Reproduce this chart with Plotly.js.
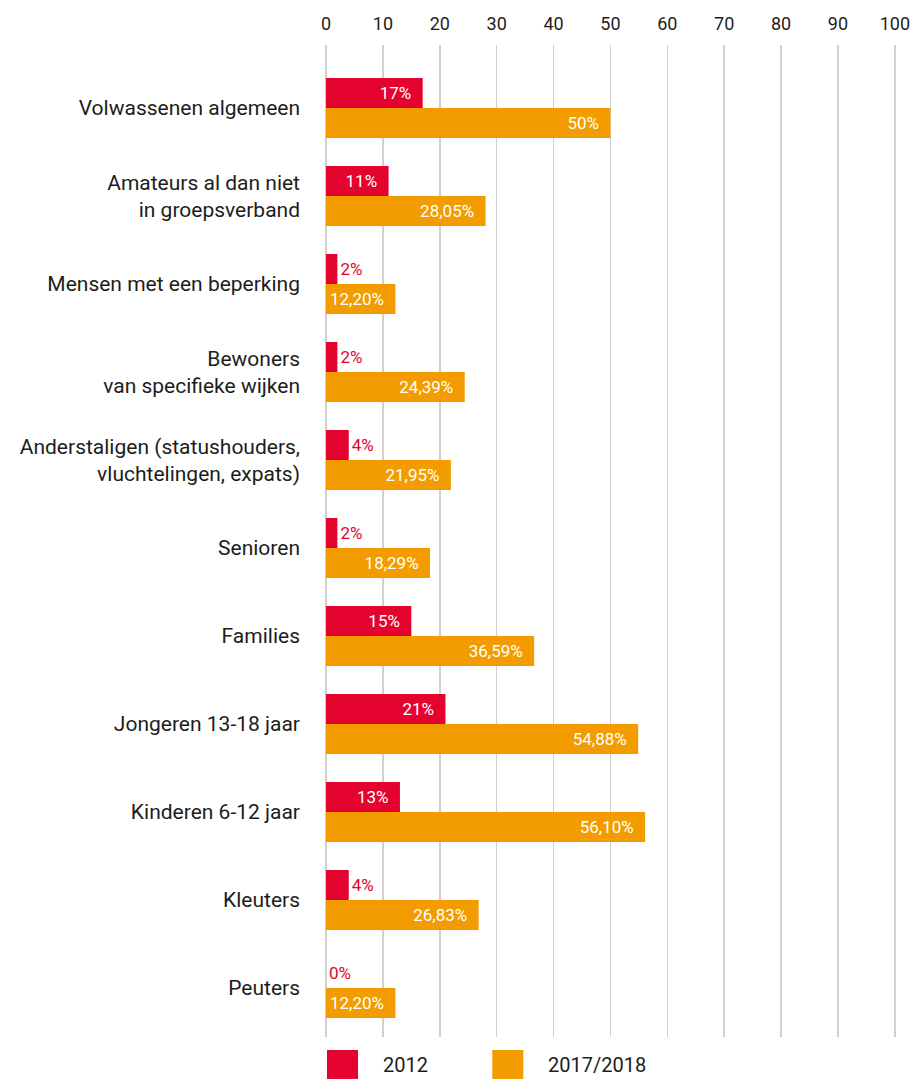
<!DOCTYPE html>
<html>
<head>
<meta charset="utf-8">
<script src="https://cdn.plot.ly/plotly-3.0.1.min.js"></script>
<style>html,body{margin:0;padding:0;background:#fff}#chart{width:910px;height:1079px}</style>
</head>
<body>
<div id="chart"></div>
<script>
const categories = [
  "Volwassenen algemeen",
  "Amateurs al dan niet<br>in groepsverband",
  "Mensen met een beperking",
  "Bewoners<br>van specifieke wijken",
  "Anderstaligen (statushouders,<br>vluchtelingen, expats)",
  "Senioren",
  "Families",
  "Jongeren 13-18 jaar",
  "Kinderen 6-12 jaar",
  "Kleuters",
  "Peuters"
];
const values2012 = [17, 11, 2, 2, 4, 2, 15, 21, 13, 4, 0];
const labels2012 = ["17%", "11%", "2%", "2%", "4%", "2%", "15%", "21%", "13%", "4%", "0%"];
const values2017 = [50, 28.05, 12.20, 24.39, 21.95, 18.29, 36.59, 54.88, 56.10, 26.83, 12.20];
const labels2017 = ["50%", "28,05%", "12,20%", "24,39%", "21,95%", "18,29%", "36,59%", "54,88%", "56,10%", "26,83%", "12,20%"];
const seriesNames = ["2012", "2017/2018"];
const xTicks = [0, 10, 20, 30, 40, 50, 60, 70, 80, 90, 100];

const RED = "#e4032e", ORANGE = "#f39c00", TXT = "#1d1d1b";
const FONT = "Roboto, 'DejaVu Sans', sans-serif";
const PAD = "\u00a0\u00a0";

const inside2012 = values2012.map(v => v >= 8);
const pos2012 = inside2012.map(b => b ? "inside" : "outside");
const col2012 = inside2012.map(b => b ? "#ffffff" : RED);
const txt2012 = labels2012.map((t, i) => inside2012[i] ? t + PAD : t);
const txt2017 = labels2017.map(t => t + PAD);

const traces = [
  {
    type: "bar", orientation: "h", name: seriesNames[0],
    y: categories, x: values2012, text: txt2012,
    textposition: pos2012, insidetextanchor: "end",
    textfont: {family: FONT, size: 17, color: col2012},
    marker: {color: RED}, cliponaxis: false, hoverinfo: "skip"
  },
  {
    type: "bar", orientation: "h", name: seriesNames[1],
    y: categories, x: values2017, text: txt2017,
    textposition: "inside", insidetextanchor: "end",
    textfont: {family: FONT, size: 17, color: "#ffffff"},
    marker: {color: ORANGE}, cliponaxis: false, hoverinfo: "skip"
  }
];

const layout = {
  width: 910, height: 1079,
  margin: {l: 326, r: 14, t: 45, b: 42},
  paper_bgcolor: "#fff", plot_bgcolor: "#fff",
  barmode: "group", bargap: 0.318, bargroupgap: 0,
  showlegend: false,
  font: {family: FONT, color: TXT},
  uniformtext: {minsize: 17, mode: "show"},
  xaxis: {
    side: "top", range: [0, 100.2], tickvals: xTicks, ticktext: xTicks.map(String),
    showgrid: true, gridcolor: "#d0d0d0", gridwidth: 1.5,
    zeroline: true, zerolinecolor: "#d0d0d0", zerolinewidth: 1.5,
    showline: false, ticks: "", ticklabelstandoff: 10, ticklabeloverflow: "allow",
    tickfont: {family: FONT, size: 18, color: TXT}, fixedrange: true
  },
  yaxis: {
    type: "category", categoryorder: "array", categoryarray: categories,
    range: [10.557, -0.716], showgrid: false, zeroline: false, showline: false,
    ticks: "", ticklabelstandoff: 25,
    tickfont: {family: FONT, size: 21, color: TXT}, fixedrange: true
  },
  shapes: [
    {type: "rect", xref: "paper", yref: "paper", x0: 0.0018, x1: 0.0562, y0: -0.0131, y1: -0.0423, fillcolor: RED, line: {width: 0}},
    {type: "rect", xref: "paper", yref: "paper", x0: 0.2917, x1: 0.3462, y0: -0.0131, y1: -0.0423, fillcolor: ORANGE, line: {width: 0}}
  ],
  annotations: [
    {xref: "paper", yref: "paper", x: 0.0967, y: -0.0282, xanchor: "left", yanchor: "middle", showarrow: false, text: seriesNames[0], font: {family: FONT, size: 20, color: TXT}},
    {xref: "paper", yref: "paper", x: 0.3866, y: -0.0282, xanchor: "left", yanchor: "middle", showarrow: false, text: seriesNames[1], font: {family: FONT, size: 20, color: TXT}}
  ]
};

Plotly.newPlot("chart", traces, layout, {displayModeBar: false, staticPlot: true});
</script>
</body>
</html>
